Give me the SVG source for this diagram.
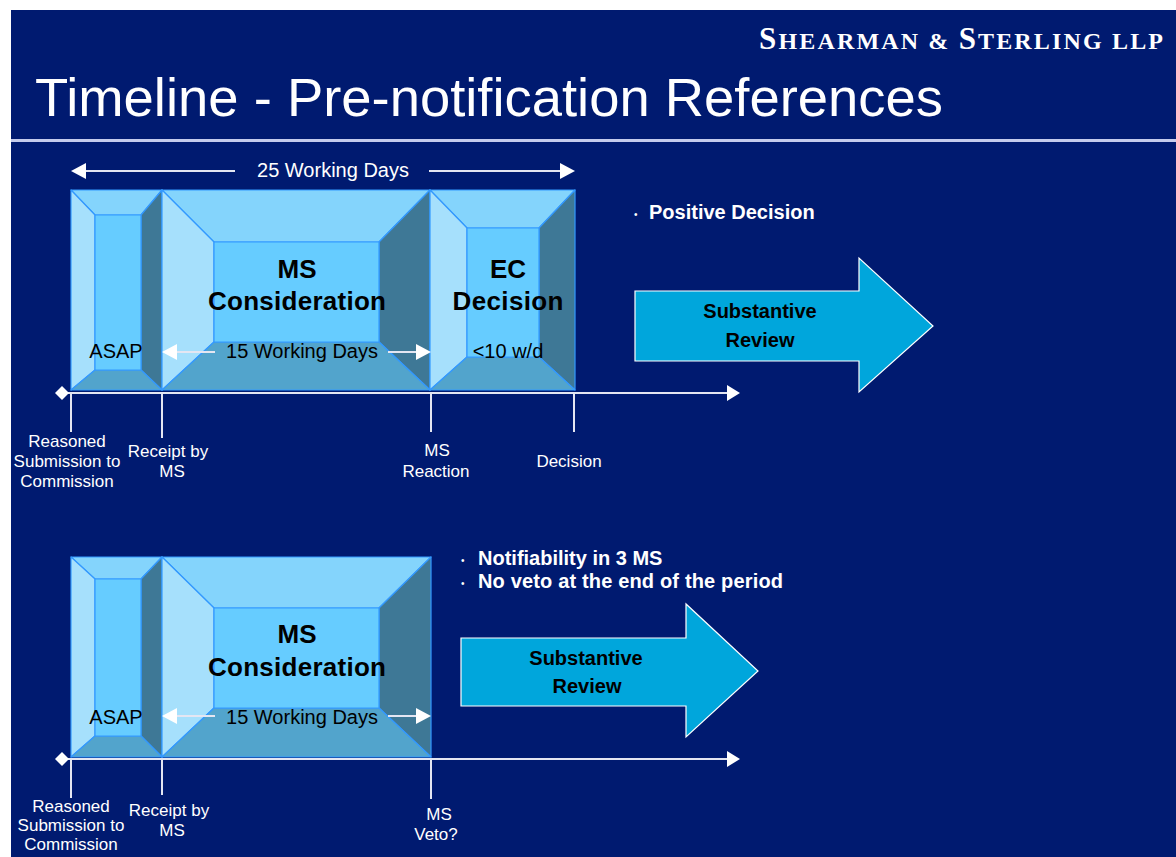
<svg xmlns="http://www.w3.org/2000/svg" width="1176" height="857" viewBox="0 0 1176 857">
<defs>
<style>
.bg{fill:#001A70}
.t{font-family:"Liberation Sans",Arial,sans-serif;fill:#fff}
.lbl{font-size:17px;text-anchor:middle}
.box{font-size:20px;text-anchor:middle}
.blk{fill:#000}
.b{font-weight:bold}
.mid{text-anchor:middle}
.edge{stroke:#3399ff;stroke-width:1.2;stroke-linejoin:round}
.tp{fill:#84d4fc}.lf{fill:#a6e0fc}.rt{fill:#3e7896}.bt{fill:#52a4cc}.in{fill:#66ccff}
.ln{stroke:#e4e6f2;stroke-width:2;fill:none}
.big{fill:#00A6DC;stroke:#fff;stroke-width:1.2}
.serif{font-family:"Liberation Serif","Times New Roman",serif;font-weight:bold;fill:#fff}
</style>
<marker id="ah" markerUnits="userSpaceOnUse" markerWidth="16" markerHeight="17" refX="0" refY="8" orient="auto-start-reverse">
<path d="M0,0 L15,8 L0,16 z" fill="#fff"/>
</marker>
<marker id="ax" markerUnits="userSpaceOnUse" markerWidth="14" markerHeight="17" refX="0" refY="8" orient="auto">
<path d="M0,0 L13,8 L0,16 z" fill="#fff"/>
</marker>
</defs>
<rect x="0" y="0" width="1176" height="857" fill="#fff"/>
<rect class="bg" x="11" y="10" width="1165" height="847"/>
<rect x="11" y="139" width="1165" height="3" fill="#c4cbec"/>

<g id="header">
<text class="serif" x="1163" y="49" text-anchor="end" textLength="404"><tspan font-size="31">S</tspan><tspan font-size="24">HEARMAN &amp; </tspan><tspan font-size="31">S</tspan><tspan font-size="24">TERLING LLP</tspan></text>
</g>
<g id="title">
<text class="t" x="35" y="116" font-size="53" textLength="908" lengthAdjust="spacingAndGlyphs">Timeline - Pre-notification References</text>
</g>

<!-- Top timeline -->
<g id="box-asap-1">
<polygon class="tp edge" points="71,190 162,190 141,215 95,215"/>
<polygon class="lf edge" points="71,190 95,215 95,370 71,390"/>
<polygon class="rt edge" points="162,190 162,390 141,370 141,215"/>
<polygon class="bt edge" points="71,390 95,370 141,370 162,390"/>
<rect class="in edge" x="95" y="215" width="46" height="155"/>
<text class="t blk box" x="116" y="358">ASAP</text>
</g>
<g id="box-ms-1">
<polygon class="tp edge" points="162,190 430,190 379,242 214,242"/>
<polygon class="lf edge" points="162,190 214,242 214,342 162,390"/>
<polygon class="rt edge" points="430,190 430,390 379,342 379,242"/>
<polygon class="bt edge" points="162,390 214,342 379,342 430,390"/>
<rect class="in edge" x="214" y="242" width="165" height="100"/>
<text class="t blk b mid" x="297" y="278" font-size="26">MS</text>
<text class="t blk b mid" x="297" y="310" font-size="26" textLength="178">Consideration</text>
<text class="t blk box" x="302" y="358">15 Working Days</text>
</g>
<g id="box-ec-1">
<polygon class="tp edge" points="430,190 575,190 539,228 467,228"/>
<polygon class="lf edge" points="430,190 467,228 467,357 430,390"/>
<polygon class="rt edge" points="575,190 575,390 539,357 539,228"/>
<polygon class="bt edge" points="430,390 467,357 539,357 575,390"/>
<rect class="in edge" x="467" y="228" width="72" height="129"/>
<text class="t blk b mid" x="508" y="278" font-size="26">EC</text>
<text class="t blk b mid" x="508" y="310" font-size="26" textLength="111">Decision</text>
<text class="t blk box" x="508" y="358">&lt;10 w/d</text>
</g>
<g id="span-25">
<text class="t box" x="333" y="177">25 Working Days</text>
</g>
<g id="note-positive">
<text class="t" x="634" y="218" font-size="10">•</text>
<text class="t b" x="649" y="219" font-size="20">Positive Decision</text>
</g>
<g id="review-1">
<polygon class="big" points="635,291 859,291 859,258 933,326 859,392 859,361 635,361"/>
<text class="t blk b mid" x="760" y="318" font-size="20">Substantive</text>
<text class="t blk b mid" x="760" y="347" font-size="20">Review</text>
</g>
<g id="labels-1">
<text class="t lbl" x="67" y="447">Reasoned</text>
<text class="t lbl" x="67" y="467">Submission to</text>
<text class="t lbl" x="67" y="487">Commission</text>
<text class="t lbl" x="168" y="457">Receipt by</text>
<text class="t lbl" x="172" y="477">MS</text>
<text class="t lbl" x="437" y="456">MS</text>
<text class="t lbl" x="436" y="477">Reaction</text>
<text class="t lbl" x="569" y="467">Decision</text>
</g>

<!-- Bottom timeline -->
<g id="box-asap-2">
<polygon class="tp edge" points="71,557 162,557 141,579 95,579"/>
<polygon class="lf edge" points="71,557 95,579 95,736 71,757"/>
<polygon class="rt edge" points="162,557 162,757 141,736 141,579"/>
<polygon class="bt edge" points="71,757 95,736 141,736 162,757"/>
<rect class="in edge" x="95" y="579" width="46" height="157"/>
<text class="t blk box" x="116" y="724">ASAP</text>
</g>
<g id="box-ms-2">
<polygon class="tp edge" points="162,557 431,557 379,608 214,608"/>
<polygon class="lf edge" points="162,557 214,608 214,708 162,757"/>
<polygon class="rt edge" points="431,557 431,757 379,708 379,608"/>
<polygon class="bt edge" points="162,757 214,708 379,708 431,757"/>
<rect class="in edge" x="214" y="608" width="165" height="100"/>
<text class="t blk b mid" x="297" y="643" font-size="26">MS</text>
<text class="t blk b mid" x="297" y="676" font-size="26" textLength="178">Consideration</text>
<text class="t blk box" x="302" y="724">15 Working Days</text>
</g>
<g id="note-veto">
<text class="t" x="461" y="564" font-size="10">•</text>
<text class="t b" x="478" y="565" font-size="20">Notifiability in 3 MS</text>
<text class="t" x="461" y="587" font-size="10">•</text>
<text class="t b" x="478" y="588" font-size="20" textLength="305">No veto at the end of the period</text>
</g>
<g id="review-2">
<polygon class="big" points="461,638 686,638 686,604 758,671 686,737 686,706 461,706"/>
<text class="t blk b mid" x="586" y="665" font-size="20">Substantive</text>
<text class="t blk b mid" x="587" y="693" font-size="20">Review</text>
</g>
<g id="labels-2">
<text class="t lbl" x="71" y="812">Reasoned</text>
<text class="t lbl" x="71" y="831">Submission to</text>
<text class="t lbl" x="71" y="850">Commission</text>
<text class="t lbl" x="169" y="816">Receipt by</text>
<text class="t lbl" x="172" y="836">MS</text>
<text class="t lbl" x="439" y="820">MS</text>
<text class="t lbl" x="436" y="840">Veto?</text>
</g>

<g id="connectors">
<!-- top -->
<line class="ln" x1="86" y1="171" x2="235" y2="171" marker-start="url(#ah)"/>
<line class="ln" x1="429" y1="171" x2="560" y2="171" marker-end="url(#ah)"/>
<line class="ln" x1="215" y1="352" x2="177" y2="352" marker-end="url(#ah)"/>
<line class="ln" x1="388" y1="352" x2="416" y2="352" marker-end="url(#ah)"/>
<line class="ln" x1="68" y1="393" x2="727" y2="393" marker-end="url(#ax)"/>
<polygon points="62,386 69,393 62,400 55,393" fill="#fff"/>
<line class="ln" x1="71" y1="393" x2="71" y2="432"/>
<line class="ln" x1="162" y1="393" x2="162" y2="438"/>
<line class="ln" x1="431" y1="393" x2="431" y2="432"/>
<line class="ln" x1="574" y1="393" x2="574" y2="432"/>
<!-- bottom -->
<line class="ln" x1="215" y1="716" x2="177" y2="716" marker-end="url(#ah)"/>
<line class="ln" x1="388" y1="716" x2="416" y2="716" marker-end="url(#ah)"/>
<line class="ln" x1="68" y1="759" x2="727" y2="759" marker-end="url(#ax)"/>
<polygon points="62,752 69,759 62,766 55,759" fill="#fff"/>
<line class="ln" x1="71" y1="759" x2="71" y2="798"/>
<line class="ln" x1="162" y1="759" x2="162" y2="795"/>
<line class="ln" x1="431" y1="759" x2="431" y2="799"/>
</g>
</svg>
